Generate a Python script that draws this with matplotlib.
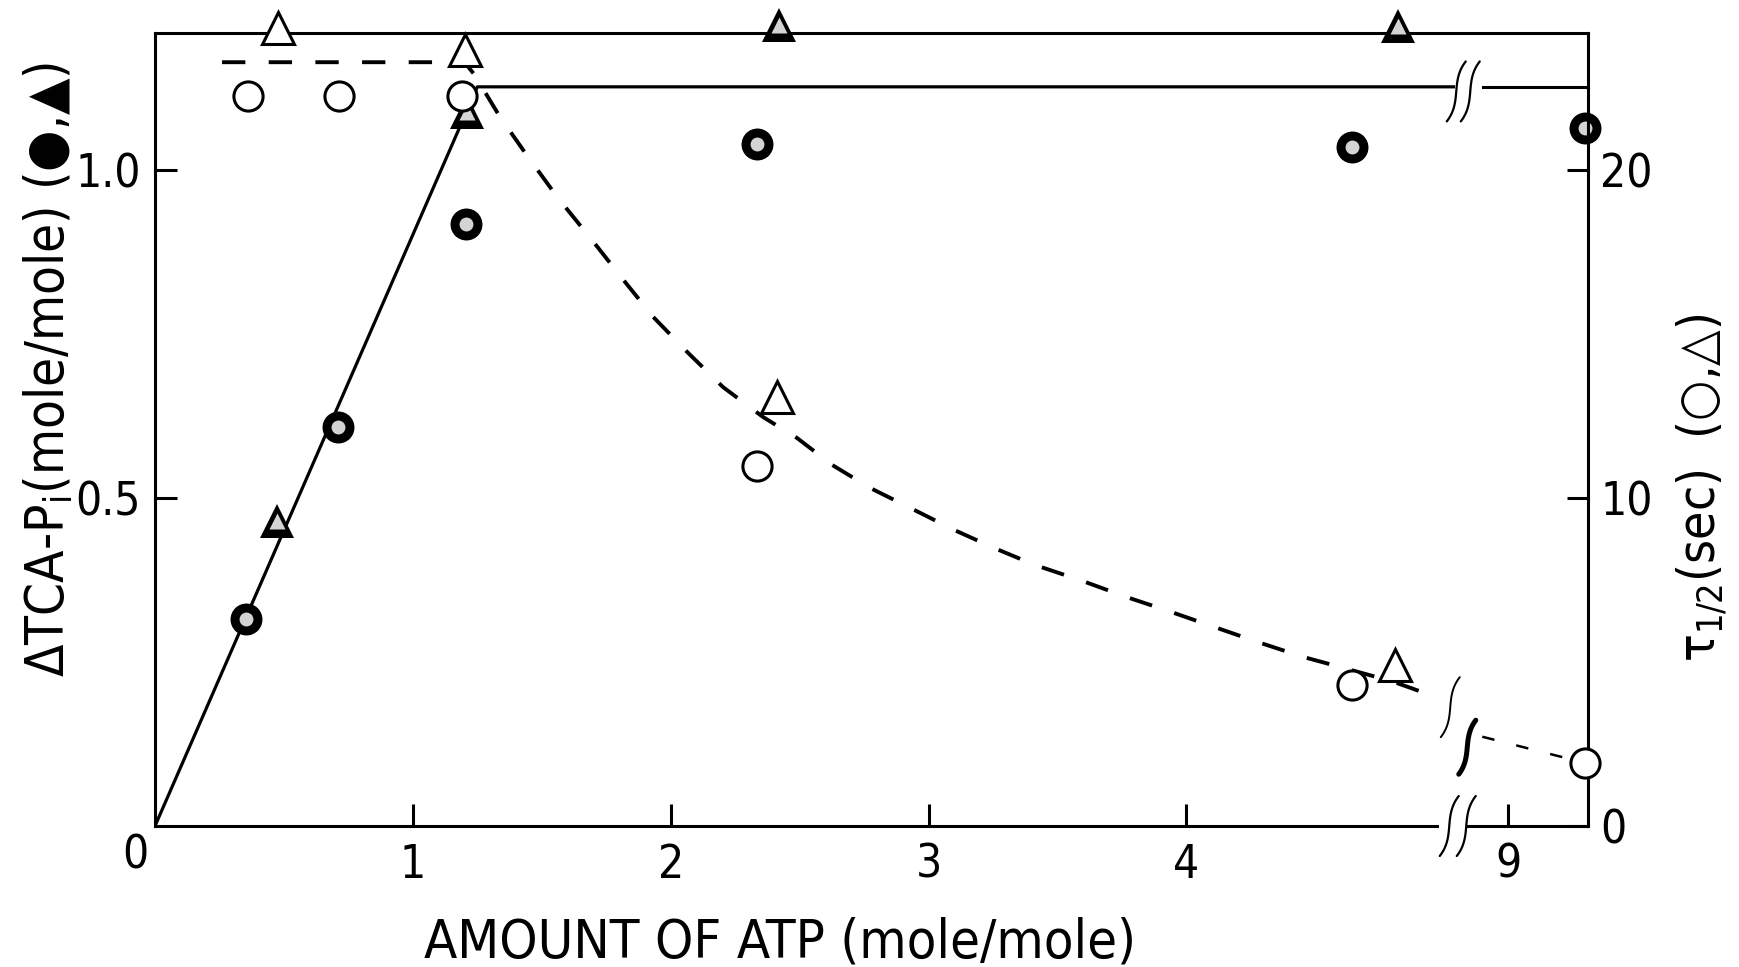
import numpy as np
import matplotlib
matplotlib.use("Agg")
import matplotlib.pyplot as plt
from matplotlib.transforms import Affine2D, ScaledTranslation
from matplotlib.lines import Line2D

plt.rcParams['font.family'] = ['DejaVu Sans']
plt.rcParams['font.stretch'] = 'condensed'
plt.rcParams['mathtext.default'] = 'regular'

# ---- data -------------------------------------------------------------
# TCA-Pi (left axis, mole/mole)
atp_pi_circle = [0.353, 0.71, 1.206, 2.336, 4.64, 9.3]
pi_circle = [0.315, 0.608, 0.917, 1.039, 1.034, 1.063]
atp_pi_tri = [0.473, 1.21, 2.42, 4.82]
pi_tri = [0.464, 1.088, 1.22, 1.218]

# half-time (right axis, sec)
atp_tau_circle = [0.361, 0.715, 1.19, 2.336, 4.64, 9.3]
tau_circle = [22.24, 22.24, 22.24, 10.97, 4.30, 1.92]
atp_tau_tri = [0.477, 1.203, 2.413, 4.81]
tau_tri = [24.31, 23.64, 13.07, 4.90]

# drawn curves
pi_line_x = [0.0, 1.25, 5.035]
pi_line_y = [0.0, 1.126, 1.126]
pi_line_tail_x = [8.904, 9.31]
pi_line_tail_y = [1.126, 1.126]

tau_curve_x = [0.26, 1.20, 1.238, 1.338, 1.447, 1.563, 1.695, 1.811, 1.932,
               2.064, 2.203, 2.358, 2.490, 2.626, 2.773, 2.929, 3.099, 3.254,
               3.413, 3.588, 3.766, 3.941, 4.12, 4.286, 4.453, 4.612, 4.80,
               4.95]
tau_curve_y = [23.27, 23.27, 22.9, 21.6, 20.38, 19.13, 17.85, 16.69, 15.51,
               14.44, 13.37, 12.46, 11.82, 11.0, 10.30, 9.69, 9.02, 8.47,
               7.95, 7.49, 6.98, 6.52, 6.03, 5.58, 5.15, 4.81, 4.40, 3.98]
tau_tail_x = [8.90, 9.30]
tau_tail_y = [2.72, 1.92]

x_ticks = [1, 2, 3, 4, 9]
x_ticklabels = ['1', '2', '3', '4', '9']
left_ticks = [0.5, 1.0]
left_ticklabels = ['0.5', '1.0']
right_ticks = [0, 10, 20]
right_ticklabels = ['0', '10', '20']

# ---- broken x scale: 9 and above sit right after 5 --------------------
GAP_SHIFT = 3.753


def fwd(x):
    x = np.asarray(x, float)
    return np.where(x > 7.0, x - GAP_SHIFT, x)


def inv(d):
    d = np.asarray(d, float)
    return np.where(d > 5.2, d + GAP_SHIFT, d)


W, H = 1739, 967
fig = plt.figure(figsize=(W / 100, H / 100), dpi=100)
fig.patch.set_facecolor('white')
ax = fig.add_axes([155 / W, (H - 826) / H, (1588 - 155) / W, (826 - 33) / H])
ax.set_xscale('function', functions=(fwd, inv))
ax.set_xlim(0, 9.31)
ax.set_ylim(0, 1.208)
ax2 = ax.twinx()
ax2.set_ylim(0, 1.208 * 20)
ax2.set_xlim(0, 9.31)

LW = 2.2
TICK_FS = 33
for a in (ax, ax2):
    for s in a.spines.values():
        s.set_linewidth(LW)
ax.spines['bottom'].set_visible(False)
ax2.spines['bottom'].set_visible(False)
ax2.spines['left'].set_visible(False)
ax2.spines['top'].set_visible(False)
ax.spines['right'].set_visible(False)

# bottom spine with a gap at the break
ax.plot([0, 4.973], [0, 0], color='black', lw=LW, clip_on=False,
        solid_capstyle='projecting', zorder=3)
ax.plot([8.846, 9.31], [0, 0], color='black', lw=LW, clip_on=False,
        solid_capstyle='projecting', zorder=3)

ax.set_xticks(x_ticks)
ax.set_xticklabels(x_ticklabels)
ax.set_yticks(left_ticks)
ax.set_yticklabels(left_ticklabels)
ax2.set_yticks(right_ticks)
ax2.set_yticklabels(right_ticklabels)
ax.tick_params(axis='both', direction='in', length=16, width=LW,
               labelsize=TICK_FS, pad=10)
ax.tick_params(axis='x', pad=12)
ax2.tick_params(axis='y', direction='in', length=15, width=LW,
                labelsize=TICK_FS, pad=9)
fig.text(135 / W, 1 - 856 / H, '0', fontsize=TICK_FS, ha='center', va='center')

# lines
ax.plot(pi_line_x, pi_line_y, color='black', lw=2.3, zorder=2)
ax.plot(pi_line_tail_x, pi_line_tail_y, color='black', lw=2.2, zorder=2,
        clip_on=False)
ax2.plot(tau_curve_x, tau_curve_y, color='black', lw=2.8,
         linestyle=(0, (6, 6)), zorder=2)
ax2.plot(tau_tail_x, tau_tail_y, color='black', lw=1.8,
         linestyle=(0, (5, 9)), zorder=2)

# filled markers: black body with a pale speckled core
solid_body = dict(mfc='black', mec='black', mew=0, linestyle='none',
                  clip_on=False, zorder=4)
pale_core = dict(mfc='#d4d4d4', mec='none', linestyle='none',
                 clip_on=False, zorder=4.5)
ax.plot(atp_pi_circle, pi_circle, marker='o', ms=23, **solid_body)
ax.plot(atp_pi_circle, pi_circle, marker='o', ms=10, **pale_core)
ax.plot(atp_pi_tri, pi_tri, marker='^', ms=25, **solid_body)
ax.plot(atp_pi_tri, pi_tri, marker='^', ms=11, **pale_core)

# open markers
hollow = dict(mfc='white', mec='black', mew=2.2, linestyle='none',
              clip_on=False, zorder=5)
ax2.plot(atp_tau_tri, tau_tri, marker='^', ms=23, **hollow)
ax2.plot(atp_tau_circle, tau_circle, marker='o', ms=21, **hollow)


# axis-break squiggles
def squiggle(a, xd, yd, half_h, amp, lw, dx=0.0):
    t = np.linspace(-1, 1, 80)
    px = amp * t ** 3 + 2.5 * t + dx
    py = half_h * t
    tr = Affine2D() + ScaledTranslation(xd, yd, a.transData)
    fig.add_artist(Line2D(px, py, transform=tr, color='black', lw=lw,
                          clip_on=False, solid_capstyle='round', zorder=6))


BREAK_X = 5.05
for dx in (-8, 9):
    squiggle(ax, BREAK_X, 0.0, 30, 7, 1.6, dx)
for dx in (-1, 13):
    squiggle(ax, BREAK_X, 1.119, 30, 7, 1.6, dx)
squiggle(ax, BREAK_X, 0.181, 30, 7, 1.4, -7)
squiggle(ax, BREAK_X, 0.120, 27, 6, 3.6, 10)

# axis titles
fig.text(48 / W, 1 - 369 / H,
         r'ΔTCA-P$_{i}$(mole/mole) (●,▲)',
         rotation=90, fontsize=38, ha='center', va='center')
fig.text(1702 / W, 1 - 488 / H,
         r'τ$_{1/2}$(sec)  (○,△)',
         rotation=90, fontsize=37, ha='center', va='center')
fig.text(780 / W, 1 - 943 / H, 'AMOUNT OF ATP (mole/mole)',
         fontsize=39, ha='center', va='center')

fig.savefig('out.png', dpi=100, facecolor='white')
